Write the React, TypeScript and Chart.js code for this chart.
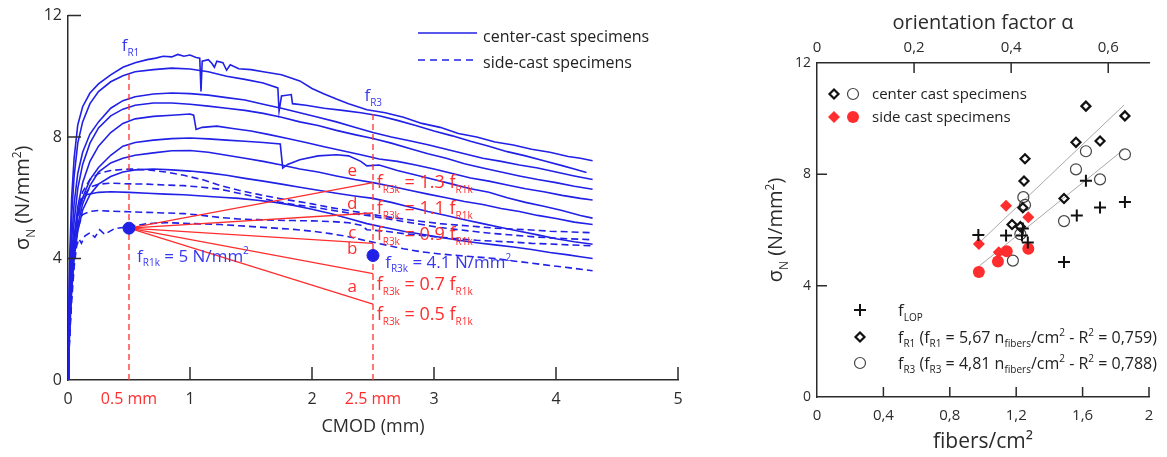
import React, { useEffect, useRef } from 'react';
import { Chart, registerables } from 'chart.js';

Chart.register(...registerables);

const FONT = '"Open Sans", "DejaVu Sans", sans-serif';
const BLUE = '#2020e6';
const LABEL_BLUE = '#3838f0';
const RED = '#ff2d2d';
const AXIS = '#2b2b2b';

type P = [number, number];
type Seg = [string, number?];

// ---------------- Left panel data (CMOD mm, sigma N/mm2) ----------------
const cmodTicks = [0, 0.5, 1, 2, 2.5, 3, 4, 5];
const cmodTickMarks = [1, 2, 3, 4, 5];
const stressTicks = [0, 4, 8, 12];
const stressTickMarks = [4, 8, 12];

const solid1: P[] = [[0,0],[0.005,2.0],[0.015,4.2],[0.03,6.0],[0.05,7.3],[0.08,8.4],[0.12,9.0],[0.18,9.45],[0.25,9.75],[0.35,10.05],[0.45,10.3],[0.55,10.45],[0.65,10.55],[0.72,10.6],[0.78,10.66],[0.85,10.64],[0.9,10.72],[0.95,10.66],[1.0,10.7],[1.05,10.62],[1.08,10.6],[1.09,9.5],[1.1,10.5],[1.15,10.55],[1.18,10.42],[1.2,10.3],[1.22,10.5],[1.27,10.45],[1.3,10.2],[1.33,10.38],[1.4,10.25],[1.5,10.22],[1.6,10.15],[1.75,10.05],[1.9,9.85],[2.0,9.6],[2.1,9.42],[2.2,9.25],[2.3,9.1],[2.45,8.9],[2.6,8.8],[2.75,8.65],[2.9,8.45],[3.05,8.32],[3.2,8.12],[3.35,8.0],[3.5,7.84],[3.65,7.74],[3.8,7.6],[3.95,7.5],[4.1,7.36],[4.2,7.3],[4.3,7.22]];
const solid2: P[] = [[0,0],[0.005,1.6],[0.015,3.6],[0.03,5.4],[0.05,6.7],[0.08,7.8],[0.12,8.5],[0.18,9.1],[0.25,9.5],[0.35,9.82],[0.45,10.02],[0.55,10.15],[0.7,10.22],[0.85,10.27],[1.0,10.24],[1.15,10.15],[1.3,10.0],[1.45,9.9],[1.6,9.78],[1.72,9.62],[1.73,8.85],[1.75,9.35],[1.83,9.4],[1.84,9.1],[1.95,9.05],[2.1,8.95],[2.25,8.88],[2.4,8.8],[2.55,8.7],[2.7,8.55],[2.85,8.38],[3.0,8.2],[3.15,8.04],[3.3,7.86],[3.45,7.7],[3.6,7.52],[3.75,7.38],[3.9,7.22],[4.05,7.06],[4.15,6.95],[4.25,6.83]];
const solid3: P[] = [[0,0],[0.005,1.3],[0.015,3.0],[0.03,4.6],[0.05,5.8],[0.08,6.8],[0.12,7.5],[0.18,8.1],[0.25,8.5],[0.35,8.95],[0.45,9.2],[0.55,9.33],[0.7,9.42],[0.85,9.45],[1.0,9.43],[1.15,9.38],[1.3,9.3],[1.45,9.22],[1.6,9.08],[1.75,8.95],[1.9,8.8],[2.05,8.65],[2.2,8.5],[2.35,8.32],[2.5,8.15],[2.65,8.0],[2.8,7.88],[2.95,7.75],[3.1,7.6],[3.25,7.45],[3.4,7.3],[3.55,7.2],[3.7,7.08],[3.85,6.98],[4.0,6.85],[4.15,6.72],[4.3,6.6]];
const solid4: P[] = [[0,0],[0.005,1.1],[0.015,2.6],[0.03,4.0],[0.05,5.2],[0.08,6.3],[0.12,7.1],[0.18,7.8],[0.25,8.3],[0.35,8.7],[0.45,8.92],[0.55,9.05],[0.7,9.12],[0.85,9.12],[1.0,9.08],[1.15,9.02],[1.3,8.95],[1.45,8.88],[1.6,8.78],[1.75,8.65],[1.9,8.5],[2.05,8.38],[2.2,8.22],[2.35,8.08],[2.5,7.95],[2.65,7.8],[2.8,7.62],[2.95,7.45],[3.1,7.3],[3.25,7.12],[3.4,6.98],[3.55,6.85],[3.7,6.72],[3.85,6.6],[4.0,6.5],[4.15,6.38],[4.3,6.28]];
const solid5: P[] = [[0,0],[0.005,0.9],[0.015,2.2],[0.03,3.5],[0.05,4.7],[0.08,5.7],[0.12,6.5],[0.18,7.2],[0.25,7.7],[0.35,8.15],[0.45,8.45],[0.55,8.6],[0.7,8.68],[0.85,8.72],[1.0,8.76],[1.03,8.72],[1.05,8.25],[1.1,8.32],[1.22,8.36],[1.35,8.28],[1.5,8.2],[1.65,8.08],[1.8,7.95],[1.95,7.82],[2.1,7.68],[2.25,7.55],[2.4,7.42],[2.55,7.28],[2.7,7.2],[2.85,7.08],[3.0,6.95],[3.15,6.8],[3.3,6.65],[3.45,6.55],[3.6,6.42],[3.75,6.3],[3.9,6.2],[4.05,6.08],[4.2,5.98],[4.3,5.93]];
const solid6: P[] = [[0,0],[0.005,0.9],[0.015,2.1],[0.03,3.4],[0.05,4.5],[0.08,5.4],[0.12,6.0],[0.18,6.6],[0.25,7.0],[0.35,7.4],[0.45,7.7],[0.55,7.82],[0.7,7.9],[0.85,7.95],[1.0,7.97],[1.15,7.94],[1.3,7.9],[1.45,7.86],[1.6,7.82],[1.74,7.77],[1.76,6.98],[1.8,7.1],[1.9,7.25],[2.05,7.38],[2.2,7.42],[2.3,7.38],[2.4,7.2],[2.45,7.05],[2.55,7.08],[2.7,6.9],[2.85,6.75],[3.0,6.6],[3.15,6.45],[3.3,6.3],[3.45,6.18],[3.6,6.0],[3.75,5.85],[3.9,5.72],[4.05,5.58],[4.2,5.42],[4.3,5.33]];
const solid7: P[] = [[0,0],[0.005,0.8],[0.015,1.9],[0.03,3.1],[0.05,4.2],[0.08,5.1],[0.12,5.8],[0.18,6.4],[0.25,6.85],[0.35,7.15],[0.45,7.3],[0.55,7.4],[0.7,7.48],[0.85,7.55],[1.0,7.56],[1.15,7.5],[1.3,7.4],[1.45,7.3],[1.6,7.2],[1.75,7.08],[1.9,6.95],[2.05,6.85],[2.2,6.72],[2.35,6.6],[2.5,6.5],[2.65,6.38],[2.8,6.25],[2.95,6.12],[3.1,6.0],[3.25,5.88],[3.4,5.78],[3.55,5.65],[3.7,5.55],[3.85,5.42],[4.0,5.32],[4.15,5.2],[4.3,5.12]];
const solid8: P[] = [[0,0],[0.005,0.7],[0.015,1.7],[0.03,2.9],[0.05,4.0],[0.08,4.9],[0.12,5.6],[0.18,6.1],[0.25,6.45],[0.35,6.7],[0.45,6.85],[0.55,6.92],[0.7,6.95],[0.85,6.92],[1.0,6.88],[1.15,6.82],[1.3,6.74],[1.45,6.64],[1.6,6.55],[1.75,6.45],[1.9,6.35],[2.05,6.25],[2.2,6.15],[2.35,6.06],[2.5,5.98],[2.65,5.85],[2.8,5.7],[2.95,5.55],[3.1,5.42],[3.25,5.28],[3.4,5.15],[3.55,5.02],[3.7,4.9],[3.85,4.78],[4.0,4.65],[4.15,4.55],[4.3,4.47]];
const solid9: P[] = [[0,0],[0.005,0.8],[0.015,2.0],[0.03,3.4],[0.05,4.6],[0.08,5.5],[0.1,5.9],[0.15,6.1],[0.25,6.18],[0.35,6.2],[0.5,6.18],[0.65,6.15],[0.8,6.12],[0.95,6.1],[1.1,6.06],[1.25,6.02],[1.4,5.98],[1.55,5.92],[1.7,5.85],[1.85,5.75],[2.0,5.62],[2.15,5.48],[2.3,5.32],[2.45,5.15],[2.6,5.02],[2.75,4.9],[2.9,4.8],[3.05,4.7],[3.2,4.6],[3.35,4.52],[3.5,4.45],[3.65,4.38],[3.8,4.3],[3.95,4.2],[4.1,4.12],[4.2,4.06],[4.3,4.0]];

const dashed1: P[] = [[0,0],[0.005,0.8],[0.015,2.0],[0.03,3.3],[0.05,4.5],[0.08,5.5],[0.12,6.2],[0.18,6.6],[0.25,6.8],[0.35,6.9],[0.5,6.95],[0.65,6.92],[0.8,6.85],[0.95,6.74],[1.1,6.6],[1.25,6.4],[1.4,6.25],[1.55,6.12],[1.7,6.0],[1.85,5.9],[2.0,5.8],[2.15,5.68],[2.3,5.58],[2.45,5.48],[2.6,5.38],[2.75,5.3],[2.9,5.22],[3.05,5.15],[3.2,5.1],[3.35,5.05],[3.5,5.0],[3.65,4.97],[3.8,4.94],[3.95,4.9],[4.1,4.88],[4.3,4.85]];
const dashed2: P[] = [[0,0],[0.005,0.7],[0.015,1.8],[0.03,3.0],[0.05,4.2],[0.08,5.3],[0.12,6.0],[0.18,6.35],[0.25,6.45],[0.35,6.48],[0.5,6.46],[0.65,6.45],[0.8,6.42],[0.95,6.4],[1.1,6.35],[1.25,6.28],[1.4,6.15],[1.55,6.02],[1.7,5.88],[1.85,5.78],[2.0,5.7],[2.15,5.6],[2.3,5.5],[2.45,5.42],[2.6,5.32],[2.75,5.22],[2.9,5.12],[3.05,5.02],[3.2,4.95],[3.35,4.88],[3.5,4.82],[3.65,4.77],[3.8,4.72],[3.95,4.68],[4.1,4.65],[4.3,4.62]];
const dashed3: P[] = [[0,0],[0.005,0.6],[0.015,1.6],[0.03,2.8],[0.05,4.0],[0.08,5.0],[0.12,5.45],[0.18,5.55],[0.25,5.58],[0.35,5.56],[0.5,5.54],[0.65,5.52],[0.8,5.5],[0.95,5.48],[1.1,5.42],[1.25,5.35],[1.4,5.3],[1.55,5.28],[1.7,5.26],[1.85,5.25],[2.0,5.24],[2.15,5.22],[2.3,5.18],[2.4,5.1],[2.45,4.95],[2.6,4.9],[2.75,4.82],[2.9,4.76],[3.05,4.7],[3.2,4.65],[3.35,4.6],[3.5,4.57],[3.65,4.54],[3.8,4.5],[3.95,4.48],[4.1,4.45],[4.3,4.42]];
const dashed4: P[] = [[0,0],[0.005,0.6],[0.015,1.5],[0.03,2.6],[0.05,3.7],[0.07,4.4],[0.09,4.65],[0.11,4.5],[0.14,4.75],[0.18,4.85],[0.22,4.7],[0.26,4.95],[0.3,4.8],[0.38,4.98],[0.5,5.05],[0.65,5.15],[0.8,5.18],[0.95,5.16],[1.1,5.14],[1.25,5.12],[1.4,5.08],[1.55,5.04],[1.7,5.0],[1.85,4.96],[2.0,4.9],[2.15,4.82],[2.3,4.72],[2.45,4.58],[2.6,4.45],[2.75,4.32],[2.9,4.22],[3.05,4.15],[3.2,4.1],[3.35,4.05],[3.5,4.0],[3.65,3.92],[3.8,3.85],[3.95,3.77],[4.1,3.7],[4.3,3.6]];

const solidCurves = [solid1, solid2, solid3, solid4, solid5, solid6, solid7, solid8, solid9];
const dashedCurves = [dashed1, dashed2, dashed3, dashed4];

const fR1k: P = [0.5, 5];
const fR3k: P = [2.5, 4.1];
const fanEndX = 2.5;
const fanEndY = [2.5, 3.5, 4.5, 5.5, 6.5];
const fanLetters = ['a', 'b', 'c', 'd', 'e'];
const fanRatios = ['0.5', '0.7', '0.9', '1.1', '1.3'];
const guideX = [0.5, 2.5];
const guideTop = [10.2, 8.8];

// label placement (data units) for the annotations of the left panel
const fanRatioLabelX = 2.53;
const fanRatioLabelY = [1.97, 2.95, 4.6, 5.48, 6.33];
const fanLetterX = 2.33;
const fanLetterY = [2.89, 4.16, 4.66, 5.64, 6.72];
const blueLabels: { x: number; y: number; segs: Seg[] }[] = [
  { x: 0.44, y: 10.82, segs: [['f'], ['R1', 1]] },
  { x: 2.43, y: 9.18, segs: [['f'], ['R3', 1]] },
  { x: 0.566, y: 3.9, segs: [['f'], ['R1k', 1], [' = 5 N/mm'], ['2', 2]] },
  { x: 2.6, y: 3.7, segs: [['f'], ['R3k', 1], [' = 4.1 N/mm'], ['2', 2]] },
];

// ---------------- Right panel data (fibers/cm2, sigma N/mm2) ----------------
const fiberTicks = [0, 0.4, 0.8, 1.2, 1.6, 2];
const alphaTicks = [0, 0.2, 0.4, 0.6];
const alphaMax = 0.684;
const sigmaTicks = [0, 4, 8, 12];

const lopPoints: P[] = [[1.62,7.77],[1.855,7.01],[1.705,6.81],[1.565,6.52],[1.488,4.85],[0.972,5.82],[1.139,5.8],[1.24,6.05],[1.235,5.8],[1.27,5.55]];
const centerR1: P[] = [[1.62,10.45],[1.855,10.1],[1.56,9.15],[1.705,9.2],[1.253,8.56],[1.247,7.76],[1.488,7.13],[1.24,6.8],[1.175,6.2],[1.225,6.12]];
const centerR3: P[] = [[1.62,8.83],[1.855,8.72],[1.56,8.18],[1.705,7.82],[1.243,7.18],[1.253,6.9],[1.488,6.32],[1.225,5.85],[1.18,4.9]];
const sideR1: P[] = [[1.139,6.87],[1.273,6.46],[0.975,5.5],[1.095,5.2]];
const sideR3: P[] = [[1.143,5.24],[1.273,5.33],[1.09,4.87],[0.975,4.49]];
const fitX = [0.97, 1.85];
const fitR1 = [5.5, 10.49];
const fitR3 = [4.67, 8.9];

// ---------------- helpers ----------------
function drawRich(ctx: CanvasRenderingContext2D, segs: Seg[], x: number, y: number, size: number, small: number, color: string, align: 'left' | 'center' = 'left') {
  ctx.save();
  ctx.fillStyle = color;
  ctx.textBaseline = 'alphabetic';
  ctx.textAlign = 'left';
  const widths = segs.map(([t, k]) => {
    ctx.font = `${k ? small : size}px ${FONT}`;
    return ctx.measureText(t).width;
  });
  const total = widths.reduce((a, b) => a + b, 0);
  let cx = align === 'center' ? x - total / 2 : x;
  segs.forEach(([t, k], i) => {
    ctx.font = `${k ? small : size}px ${FONT}`;
    const dy = k === 1 ? size * 0.28 : k === 2 ? -size * 0.42 : 0;
    ctx.fillText(t, cx, y + dy);
    cx += widths[i];
  });
  ctx.restore();
}

const toXY = (pts: P[]) => pts.map(([x, y]) => ({ x, y }));

const leftDecor = {
  id: 'leftDecor',
  afterDraw(chart: any) {
    const { ctx, chartArea: a, scales } = chart;
    const x = scales.x, y = scales.y;
    ctx.save();
    ctx.strokeStyle = AXIS;
    ctx.lineWidth = 1.5;
    ctx.beginPath();
    for (const v of cmodTickMarks) {
      const px = x.getPixelForValue(v);
      ctx.moveTo(px, a.bottom);
      ctx.lineTo(px, a.bottom - 13);
    }
    for (const v of stressTickMarks) {
      const py = y.getPixelForValue(v);
      ctx.moveTo(a.left, py);
      ctx.lineTo(a.left + 13, py);
    }
    ctx.stroke();
    ctx.restore();

    // y title
    ctx.save();
    ctx.translate(22, (a.top + a.bottom) / 2);
    ctx.rotate(-Math.PI / 2);
    drawRich(ctx, [['σ'], ['N', 1], [' (N/mm'], ['2', 2], [')']], 0, 7, 20, 12, AXIS, 'center');
    ctx.restore();

    // blue labels
    for (const l of blueLabels) {
      drawRich(ctx, l.segs, x.getPixelForValue(l.x), y.getPixelForValue(l.y), 17, 10, LABEL_BLUE);
    }
    // red fan labels
    fanRatios.forEach((r, i) => {
      drawRich(ctx, [['f'], ['R3k', 1], [` = ${r} f`], ['R1k', 1]], x.getPixelForValue(fanRatioLabelX), y.getPixelForValue(fanRatioLabelY[i]), 18, 10, RED);
      drawRich(ctx, [[fanLetters[i]]], x.getPixelForValue(fanLetterX), y.getPixelForValue(fanLetterY[i]), 17, 10, RED, 'center');
    });

    // legend
    ctx.save();
    ctx.strokeStyle = BLUE;
    ctx.lineWidth = 1.6;
    ctx.beginPath();
    ctx.moveTo(418, 33); ctx.lineTo(477, 33);
    ctx.stroke();
    ctx.setLineDash([7, 5]);
    ctx.beginPath();
    ctx.moveTo(418, 60); ctx.lineTo(477, 60);
    ctx.stroke();
    ctx.restore();
    drawRich(ctx, [['center-cast specimens']], 483, 42, 16, 10, '#222');
    drawRich(ctx, [['side-cast specimens']], 483, 68, 16, 10, '#222');
  },
};

function diamond(ctx: CanvasRenderingContext2D, x: number, y: number, r: number) {
  ctx.beginPath();
  ctx.moveTo(x, y - r); ctx.lineTo(x + r, y); ctx.lineTo(x, y + r); ctx.lineTo(x - r, y); ctx.closePath();
}

const rightDecor = {
  id: 'rightDecor',
  afterDraw(chart: any) {
    const { ctx, chartArea: a, scales } = chart;
    const x = scales.x, y = scales.y, x2 = scales.x2;
    ctx.save();
    ctx.strokeStyle = AXIS;
    ctx.lineWidth = 1.5;
    ctx.beginPath();
    for (const v of fiberTicks.slice(1)) {
      const px = x.getPixelForValue(v);
      ctx.moveTo(px, a.bottom); ctx.lineTo(px, a.bottom - 10);
    }
    for (const v of sigmaTicks.slice(1, 3)) {
      const py = y.getPixelForValue(v);
      ctx.moveTo(a.left, py); ctx.lineTo(a.left + 10, py);
    }
    for (const v of alphaTicks.slice(1)) {
      const px = x2.getPixelForValue(v);
      ctx.moveTo(px, a.top); ctx.lineTo(px, a.top + 10);
    }
    ctx.stroke();
    ctx.restore();

    ctx.save();
    ctx.translate(15, (a.top + a.bottom) / 2);
    ctx.rotate(-Math.PI / 2);
    drawRich(ctx, [['σ'], ['N', 1], [' (N/mm'], ['2', 2], [')']], 0, 7, 20, 12, AXIS, 'center');
    ctx.restore();

    // top legend
    ctx.save();
    ctx.lineWidth = 2.2;
    ctx.strokeStyle = '#111';
    ctx.fillStyle = '#fff';
    diamond(ctx, 74, 94, 4.5); ctx.fill(); ctx.stroke();
    ctx.lineWidth = 1.2; ctx.strokeStyle = '#444';
    ctx.beginPath(); ctx.arc(93, 94, 5.5, 0, Math.PI * 2); ctx.stroke();
    ctx.fillStyle = RED;
    diamond(ctx, 74, 117, 6); ctx.fill();
    ctx.beginPath(); ctx.arc(93, 117, 6, 0, Math.PI * 2); ctx.fill();
    // bottom legend markers
    ctx.strokeStyle = '#111'; ctx.lineWidth = 2;
    ctx.beginPath(); ctx.moveTo(94, 310); ctx.lineTo(106, 310); ctx.moveTo(100, 304); ctx.lineTo(100, 316); ctx.stroke();
    ctx.lineWidth = 2.2; ctx.fillStyle = '#fff';
    diamond(ctx, 100, 337, 4.5); ctx.fill(); ctx.stroke();
    ctx.lineWidth = 1.2; ctx.strokeStyle = '#444';
    ctx.beginPath(); ctx.arc(100, 363, 5.5, 0, Math.PI * 2); ctx.stroke();
    ctx.restore();

    drawRich(ctx, [['center cast specimens']], 112, 99, 15, 9, '#222');
    drawRich(ctx, [['side cast specimens']], 112, 122, 15, 9, '#222');
    drawRich(ctx, [['f'], ['LOP', 1]], 138, 316, 17, 10, '#222');
    drawRich(ctx, [['f'], ['R1', 1], [' (f'], ['R1', 1], [' = 5,67 n'], ['fibers', 1], ['/cm'], ['2', 2], [' - R'], ['2', 2], [' = 0,759)']], 138, 343, 16, 10, '#222');
    drawRich(ctx, [['f'], ['R3', 1], [' (f'], ['R3', 1], [' = 4,81 n'], ['fibers', 1], ['/cm'], ['2', 2], [' - R'], ['2', 2], [' = 0,788)']], 138, 369, 16, 10, '#222');
  },
};

function commaLabel(v: number) {
  if (v === 0) return '0';
  return Number.isInteger(v) ? String(v) : v.toFixed(1).replace('.', ',');
}

export default function App() {
  const leftRef = useRef<HTMLCanvasElement>(null);
  const rightRef = useRef<HTMLCanvasElement>(null);

  useEffect(() => {
    Chart.defaults.font.family = FONT;
    const leftDatasets: any[] = [];
    leftDatasets.push({ data: toXY([fR1k, fR3k]), pointRadius: 6, pointBackgroundColor: BLUE, pointBorderColor: BLUE, showLine: false });
    fanEndY.forEach((e) => {
      leftDatasets.push({ data: toXY([fR1k, [fanEndX, e]]), showLine: true, borderColor: RED, borderWidth: 1.3, pointRadius: 0 });
    });
    guideX.forEach((g, i) => {
      leftDatasets.push({ data: toXY([[g, 0], [g, guideTop[i]]]), showLine: true, borderColor: RED, borderWidth: 1.3, borderDash: [6, 4], pointRadius: 0 });
    });
    solidCurves.forEach((c) => {
      leftDatasets.push({ data: toXY(c), showLine: true, borderColor: BLUE, borderWidth: 1.6, pointRadius: 0 });
    });
    dashedCurves.forEach((c) => {
      leftDatasets.push({ data: toXY(c), showLine: true, borderColor: BLUE, borderWidth: 1.6, borderDash: [7, 4], pointRadius: 0 });
    });

    const left = new Chart(leftRef.current as HTMLCanvasElement, {
      type: 'scatter',
      data: { datasets: leftDatasets },
      options: {
        animation: false,
        responsive: false,
        devicePixelRatio: 1,
        layout: { padding: { top: 14, right: 22, left: 0, bottom: 0 } },
        plugins: { legend: { display: false }, tooltip: { enabled: false } },
        scales: {
          x: {
            type: 'linear', min: 0, max: 5,
            afterBuildTicks: (s: any) => { s.ticks = cmodTicks.map((v) => ({ value: v })); },
            afterFit: (s: any) => { s.height = 77; },
            grid: { display: false, drawTicks: false },
            border: { display: true, color: AXIS, width: 1.5 },
            ticks: {
              autoSkip: false, maxRotation: 0, padding: 10,
              font: { family: FONT, size: 16 },
              color: (c: any) => (c.tick && (c.tick.value === 0.5 || c.tick.value === 2.5) ? RED : AXIS),
              callback: (v: any) => (v === 0.5 || v === 2.5 ? `${v} mm` : String(v)),
            },
            title: { display: true, text: 'CMOD (mm)', color: AXIS, font: { family: FONT, size: 18 }, padding: { top: 0, bottom: 19 } },
          },
          y: {
            type: 'linear', min: 0, max: 12,
            afterBuildTicks: (s: any) => { s.ticks = stressTicks.map((v) => ({ value: v })); },
            afterFit: (s: any) => { s.width = 68; },
            grid: { display: false, drawTicks: false },
            border: { display: true, color: AXIS, width: 1.5 },
            ticks: { padding: 6, color: AXIS, font: { family: FONT, size: 16 } },
          },
        },
      } as any,
      plugins: [leftDecor],
    });

    const right = new Chart(rightRef.current as HTMLCanvasElement, {
      type: 'scatter',
      data: {
        datasets: [
          { data: toXY(lopPoints), pointStyle: 'cross', pointRadius: 6, borderWidth: 2, pointBorderColor: '#111', pointBackgroundColor: '#111' },
          { data: toXY(sideR1), pointStyle: 'rectRot', pointRadius: 6, pointBorderColor: RED, pointBackgroundColor: RED, borderWidth: 0 },
          { data: toXY(sideR3), pointStyle: 'circle', pointRadius: 6, pointBorderColor: RED, pointBackgroundColor: RED, borderWidth: 0 },
          { data: toXY(centerR1), pointStyle: 'rectRot', pointRadius: 4.5, borderWidth: 2.2, pointBorderColor: '#111', pointBackgroundColor: 'rgba(255,255,255,0)' },
          { data: toXY(centerR3), pointStyle: 'circle', pointRadius: 5.5, borderWidth: 1.2, pointBorderColor: '#444', pointBackgroundColor: 'rgba(255,255,255,0)' },
          { data: fitX.map((x, i) => ({ x, y: fitR1[i] })), showLine: true, pointRadius: 0, borderColor: '#a8a8a8', borderWidth: 1 },
          { data: fitX.map((x, i) => ({ x, y: fitR3[i] })), showLine: true, pointRadius: 0, borderColor: '#a8a8a8', borderWidth: 1 },
        ],
      },
      options: {
        animation: false,
        responsive: false,
        devicePixelRatio: 1,
        layout: { padding: { top: 0, right: 18, left: 0, bottom: 0 } },
        plugins: { legend: { display: false }, tooltip: { enabled: false } },
        scales: {
          x: {
            type: 'linear', position: 'bottom', min: 0, max: 2,
            afterBuildTicks: (s: any) => { s.ticks = fiberTicks.map((v) => ({ value: v })); },
            afterFit: (s: any) => { s.height = 60; },
            grid: { display: false, drawTicks: false },
            border: { display: true, color: AXIS, width: 1.5 },
            ticks: { autoSkip: false, maxRotation: 0, padding: 10, color: AXIS, font: { family: FONT, size: 15 }, callback: (v: any) => commaLabel(v) },
            title: { display: true, text: 'fibers/cm²', color: AXIS, font: { family: FONT, size: 21 }, padding: { top: 0, bottom: 2 } },
          },
          x2: {
            type: 'linear', position: 'top', min: 0, max: alphaMax,
            afterBuildTicks: (s: any) => { s.ticks = alphaTicks.map((v) => ({ value: v })); },
            afterFit: (s: any) => { s.height = 63; },
            grid: { display: false, drawTicks: false },
            border: { display: true, color: AXIS, width: 1.5 },
            ticks: { autoSkip: false, maxRotation: 0, padding: 6, color: AXIS, font: { family: FONT, size: 15 }, callback: (v: any) => commaLabel(v) },
            title: { display: true, text: 'orientation factor α', color: AXIS, font: { family: FONT, size: 20 }, padding: { top: 11, bottom: 0 } },
          },
          y: {
            type: 'linear', min: 0, max: 12,
            afterBuildTicks: (s: any) => { s.ticks = sigmaTicks.map((v) => ({ value: v })); },
            afterFit: (s: any) => { s.width = 57; },
            grid: { display: false, drawTicks: false },
            border: { display: true, color: AXIS, width: 1.5 },
            ticks: { padding: 6, color: AXIS, font: { family: FONT, size: 14 } },
          },
        },
      } as any,
      plugins: [rightDecor],
    });

    return () => {
      left.destroy();
      right.destroy();
    };
  }, []);

  return (
    <div style={{ position: 'fixed', left: 0, top: 0, width: 1167, height: 457, background: '#fff' }}>
      <canvas ref={leftRef} width={700} height={457} style={{ position: 'absolute', left: 0, top: 0, width: 700, height: 457 }} />
      <canvas ref={rightRef} width={407} height={457} style={{ position: 'absolute', left: 760, top: 0, width: 407, height: 457 }} />
    </div>
  );
}
